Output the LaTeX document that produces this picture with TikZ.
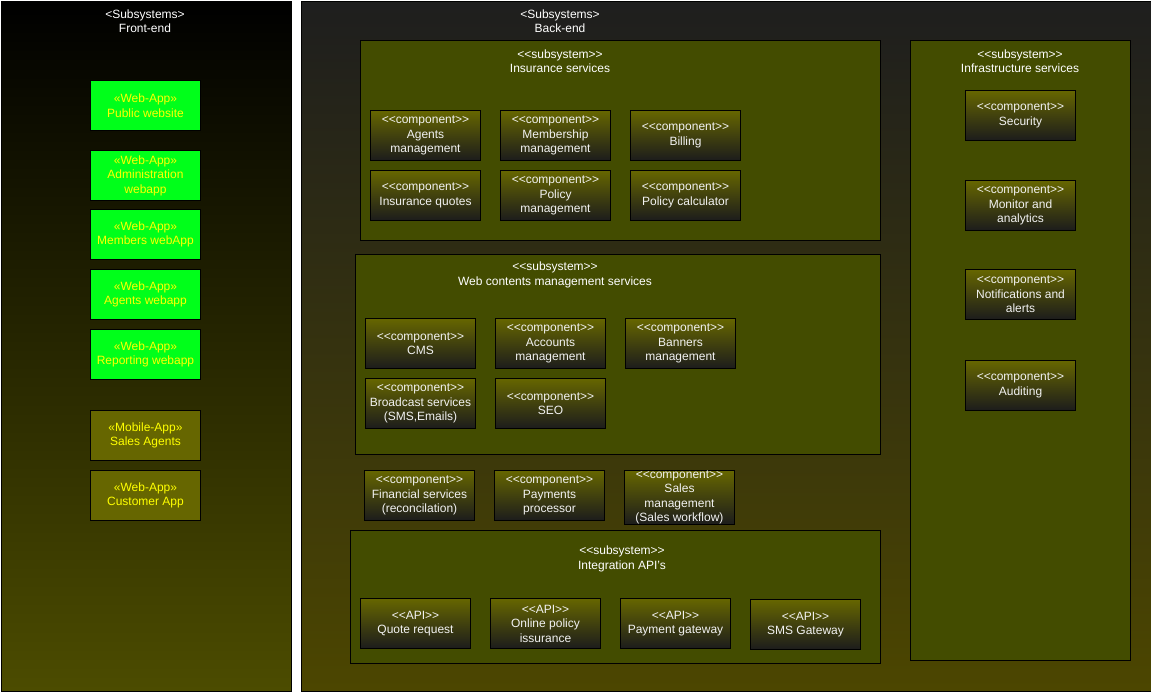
\documentclass[tikz,border=0pt]{standalone}
\usepackage{fontspec}
\setmainfont{Liberation Sans}
\definecolor{frontTop}{HTML}{000000}
\definecolor{frontBot}{HTML}{4C4C00}
\definecolor{backTop}{HTML}{1E1E1E}
\definecolor{backBot}{HTML}{4C4600}
\definecolor{subFill}{HTML}{434C00}
\definecolor{compTop}{HTML}{666600}
\definecolor{compBot}{HTML}{1C1C1C}
\definecolor{compText}{HTML}{F2F2F2}
\definecolor{appGreen}{HTML}{00FF1A}
\definecolor{appText}{HTML}{FFFF00}
\definecolor{mobFill}{HTML}{666600}
\tikzset{
  txt/.style={font=\fontsize{12}{14.5}\selectfont, align=center},
  panel/.style={draw=black, line width=1pt, inner sep=0pt, anchor=north west},
  subsys/.style={draw=black, line width=1pt, fill=subFill, inner sep=0pt, anchor=north west},
  title/.style={txt, text=white, inner sep=0pt},
  boxstrut/.style={execute at begin node={\rule{0pt}{11.6pt}}},
  comp/.style={txt, boxstrut, draw=black, line width=1pt, top color=compTop, bottom color=compBot,
    text=compText, minimum width=110pt, minimum height=50pt, inner sep=0pt, anchor=north west},
  webapp/.style={txt, boxstrut, draw=black, line width=1pt, fill=appGreen, text=appText,
    minimum width=110pt, minimum height=50pt, inner sep=0pt, anchor=north west},
  mobapp/.style={webapp, fill=mobFill},
}
\begin{document}
\begin{tikzpicture}[x=1pt, y=-1pt]
\useasboundingbox[fill=white] (0,0) rectangle (1151,691);
% panels
\node[panel, top color=frontTop, bottom color=frontBot, minimum width=290pt, minimum height=690pt] (front) at (0.5,0.5) {};
\node[panel, top color=backTop, bottom color=backBot, minimum width=850pt, minimum height=690pt] (back) at (300.5,0.5) {};
\node[title] (frontT) at (145,21) {<Subsystems>\\Front-end};
\node[title] (backT) at (560,21) {<Subsystems>\\Back-end};
% front-end apps
\node[webapp] (pub) at (90,80) {«Web-App»\\Public website};
\node[webapp] (adm) at (90,150) {«Web-App»\\Administration\\webapp};
\node[webapp] (mem) at (90,209) {«Web-App»\\Members webApp};
\node[webapp] (agw) at (90,269) {«Web-App»\\Agents webapp};
\node[webapp] (rep) at (90,329) {«Web-App»\\Reporting webapp};
\node[mobapp] (sal) at (90,410) {«Mobile-App»\\Sales Agents};
\node[mobapp] (cus) at (90,470) {«Web-App»\\Customer App};
% insurance services
\node[subsys, minimum width=520pt, minimum height=200pt] (ins) at (360,40) {};
\node[title] (insT) at (560,61) {<{}<subsystem>{}>\\Insurance services};
\node[comp] (agm) at (370,110) {<{}<component>{}>\\Agents\\management};
\node[comp] (mbm) at (500,110) {<{}<component>{}>\\Membership\\management};
\node[comp] (bil) at (630,110) {<{}<component>{}>\\Billing};
\node[comp] (inq) at (370,170) {<{}<component>{}>\\Insurance quotes};
\node[comp] (pol) at (500,170) {<{}<component>{}>\\Policy\\management};
\node[comp] (pca) at (630,170) {<{}<component>{}>\\Policy calculator};
% web contents
\node[subsys, minimum width=525pt, minimum height=200pt] (web) at (355,254) {};
\node[title] (webT) at (555,275) {<{}<subsystem>{}>\\Web contents management services};
\node[comp] (cms) at (365,318) {<{}<component>{}>\\CMS};
\node[comp] (acc) at (495,318) {<{}<component>{}>\\Accounts\\management};
\node[comp] (ban) at (625,318) {<{}<component>{}>\\Banners\\management};
\node[comp] (bro) at (365,378) {<{}<component>{}>\\Broadcast services\\(SMS,Emails)};
\node[comp] (seo) at (495,378) {<{}<component>{}>\\SEO};
% standalone components
\node[comp] (fin) at (364,470) {<{}<component>{}>\\Financial services\\(reconcilation)};
\node[comp] (pay) at (494,470) {<{}<component>{}>\\Payments\\processor};
\node[comp] (sam) at (624,470) {<{}<component>{}>\\Sales\\management\\(Sales workflow)};
% integration APIs
\node[subsys, minimum width=530pt, minimum height=133pt] (api) at (350,530) {};
\node[title] (apiT) at (622,559) {<{}<subsystem>{}>\\Integration API's};
\node[comp] (quo) at (360,598) {<{}<API>{}>\\Quote request};
\node[comp] (onl) at (490,598) {<{}<API>{}>\\Online policy\\issurance};
\node[comp] (pgw) at (620,598) {<{}<API>{}>\\Payment gateway};
\node[comp] (sms) at (750,599) {<{}<API>{}>\\SMS Gateway};
% infrastructure
\node[subsys, minimum width=220pt, minimum height=620pt] (inf) at (910,40) {};
\node[title] (infT) at (1020,61) {<{}<subsystem>{}>\\Infrastructure services};
\node[comp] (sec) at (965,90) {<{}<component>{}>\\Security};
\node[comp] (mon) at (965,180) {<{}<component>{}>\\Monitor and\\analytics};
\node[comp] (not) at (965,269) {<{}<component>{}>\\Notifications and\\alerts};
\node[comp] (aud) at (965,360) {<{}<component>{}>\\Auditing};
\end{tikzpicture}
\end{document}
